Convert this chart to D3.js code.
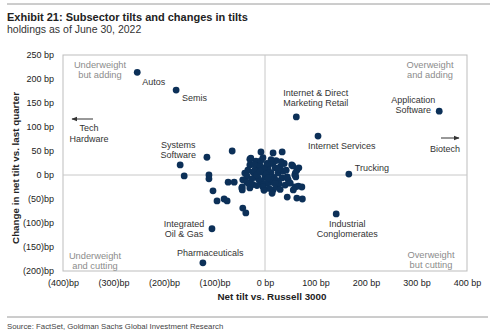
<!DOCTYPE html>
<html>
<head>
<meta charset="utf-8">
<script src="https://cdn.jsdelivr.net/npm/d3@7"></script>
<style>
  body { margin: 0; background: #fff; }
  text { font-family: "Liberation Sans", Arial, sans-serif; }
  .narrow { font-family: "Liberation Sans Narrow", "Liberation Sans", Arial, sans-serif; }
</style>
</head>
<body>
<script>
// labelled subsectors: net tilt (bp) and change in tilt (bp)
var labelled = [
  { name: ["Autos"], x: -253, y: 214, dx: 5, dy: 13, anchor: "start" },
  { name: ["Semis"], x: -176, y: 177, dx: 6, dy: 11, anchor: "start" },
  { name: ["Systems", "Software"], x: -168, y: 21, dx: -2, dy: -17, anchor: "middle" },
  { name: ["Integrated", "Oil & Gas"], x: -105, y: -112, dx: -28, dy: -2, anchor: "middle" },
  { name: ["Pharmaceuticals"], x: -123, y: -183, dx: -26, dy: -7, anchor: "start" },
  { name: ["Internet & Direct", "Marketing Retail"], x: 62, y: 121, dx: -13, dy: -21, anchor: "start" },
  { name: ["Internet Services"], x: 105, y: 81, dx: -10, dy: 13, anchor: "start" },
  { name: ["Trucking"], x: 166, y: 2, dx: 6, dy: -3, anchor: "start" },
  { name: ["Application", "Software"], x: 345, y: 133, dx: -26, dy: -8, anchor: "middle" },
  { name: ["Industrial", "Conglomerates"], x: 141, y: -81, dx: 11, dy: 13, anchor: "middle" }
];

// the rest of the subsectors, no labels
var others = [
  [-160, -2], [-115, 37], [-65, 50], [-111, 0], [-111, -8], [-103, -33], [-95, -54],
  [-81, -50], [-75, -54], [-73, -15], [-61, -15], [-44, -69], [-38, -79], [-8, 48],
  [16, 46], [34, 48], [-28, 35], [-18, 29], [-30, 21], [-34, 10], [-40, 4], [-36, -2],
  [-44, -10], [-46, -27], [-30, -27], [-14, 17], [-6, 6], [0, -4], [6, 12], [16, 25],
  [20, 15], [30, 17], [26, 4], [34, -6], [14, -15], [4, -17], [-6, -15], [-14, -6],
  [-20, -4], [-24, 6], [16, -31], [14, -38], [40, -21], [46, -10], [53, 21], [63, 10],
  [59, 0], [44, -46], [55, 19], [67, 15], [60, 4], [61, -4], [44, -4], [50, -17],
  [60, -25], [66, -23], [73, -25], [56, -31], [63, -48], [74, -50], [23, -25], [-36, -15],
  [-45, -25], [-45, -31], [-30, 33], [-20, 10], [-10, 20], [-2, 15], [8, 22], [12, 5],
  [18, -5], [24, -12], [-12, -10], [-4, -25], [8, -28], [28, -18], [-26, -8], [-16, 0],
  [2, 2], [10, -8], [-8, 30], [22, 30], [36, 8], [-32, -18], [-22, 22], [30, -30],
  [38, 24], [-2, -32], [12, 32], [-24, -20], [4, 24], [-10, 8], [6, -6], [26, 12],
  [-16, -22], [20, -18], [32, 28], [-4, 36], [42, 10]
];

var xTicks = [-400, -300, -200, -100, 0, 100, 200, 300, 400];
var yTicks = [-200, -150, -100, -50, 0, 50, 100, 150, 200, 250];

function bp(v) { return v < 0 ? "(" + (-v) + ")bp" : v + " bp"; }

var W = 500, H = 335;
var svg = d3.select("body").append("svg")
  .attr("width", W)
  .attr("height", H);

var x = d3.scaleLinear().domain([-400, 400]).range([63, 467]);
var y = d3.scaleLinear().domain([-200, 250]).range([271, 55]);

// header rule, title, subtitle
svg.append("line").attr("x1", 7).attr("x2", 490).attr("y1", 4).attr("y2", 4)
  .attr("stroke", "#9a9a9a").attr("stroke-width", 1);
svg.append("text").attr("class", "narrow")
  .attr("x", 7).attr("y", 20.5)
  .attr("font-size", 11).attr("font-weight", "bold").attr("fill", "#222")
  .text("Exhibit 21: Subsector tilts and changes in tilts");
svg.append("text").attr("class", "narrow")
  .attr("x", 7).attr("y", 33)
  .attr("font-size", 10.5).attr("fill", "#333")
  .text("holdings as of June 30, 2022");

// plot frame and zero lines
svg.append("rect")
  .attr("x", x(-400)).attr("y", y(250))
  .attr("width", x(400) - x(-400)).attr("height", y(-200) - y(250))
  .attr("fill", "none").attr("stroke", "#bdbdbd");
svg.append("line").attr("x1", x(0)).attr("x2", x(0)).attr("y1", y(250)).attr("y2", y(-200))
  .attr("stroke", "#c8c8c8");
svg.append("line").attr("x1", x(-400)).attr("x2", x(400)).attr("y1", y(0)).attr("y2", y(0))
  .attr("stroke", "#c8c8c8");

// axes
var xAxis = svg.append("g")
  .attr("transform", "translate(0," + y(-200) + ")")
  .call(d3.axisBottom(x).tickValues(xTicks).tickFormat(bp).tickSize(0).tickPadding(9));
var yAxis = svg.append("g")
  .attr("transform", "translate(" + x(-400) + ",0)")
  .call(d3.axisLeft(y).tickValues(yTicks).tickFormat(bp).tickSize(0).tickPadding(9));
[xAxis, yAxis].forEach(function (g) {
  g.select(".domain").remove();
  g.selectAll("text")
    .attr("font-family", "'Liberation Sans', Arial, sans-serif")
    .attr("font-size", 9).attr("fill", "#222");
});

svg.append("text")
  .attr("x", 272).attr("y", 300)
  .attr("text-anchor", "middle").attr("font-size", 9.8).attr("font-weight", "bold").attr("fill", "#222")
  .text("Net tilt vs. Russell 3000");
svg.append("text")
  .attr("transform", "translate(19," + 168 + ") rotate(-90)")
  .attr("text-anchor", "middle").attr("font-size", 9.8).attr("font-weight", "bold").attr("fill", "#222")
  .text("Change in net tilt vs. last quarter");

// quadrant notes
var quads = [
  { t: ["Underweight", "but adding"], px: 100, py: 68 },
  { t: ["Overweight", "and adding"], px: 430, py: 68 },
  { t: ["Underweight", "and cutting"], px: 95, py: 259 },
  { t: ["Overweight", "but cutting"], px: 431, py: 258 }
];
quads.forEach(function (q) {
  var t = svg.append("text").attr("text-anchor", "middle")
    .attr("font-size", 9.3).attr("fill", "#8c8c8c");
  q.t.forEach(function (s, i) {
    t.append("tspan").attr("x", q.px).attr("y", q.py + i * 10.2).text(s);
  });
});

// off-scale sectors shown with arrows
svg.append("defs").append("marker")
  .attr("id", "head").attr("viewBox", "0 0 10 10")
  .attr("refX", 9).attr("refY", 5)
  .attr("markerWidth", 6).attr("markerHeight", 6).attr("orient", "auto")
  .append("path").attr("d", "M0,1L10,5L0,9z").attr("fill", "#333");
svg.append("line").attr("x1", 93).attr("x2", 72).attr("y1", 119).attr("y2", 119)
  .attr("stroke", "#333").attr("marker-end", "url(#head)");
svg.append("line").attr("x1", 441).attr("x2", 459).attr("y1", 138).attr("y2", 138)
  .attr("stroke", "#333").attr("marker-end", "url(#head)");
var th = svg.append("text").attr("text-anchor", "middle").attr("font-size", 9).attr("fill", "#333");
th.append("tspan").attr("x", 89).attr("y", 131).text("Tech");
th.append("tspan").attr("x", 89).attr("y", 141.5).text("Hardware");
svg.append("text").attr("text-anchor", "middle").attr("font-size", 9).attr("fill", "#333")
  .attr("x", 445).attr("y", 152).text("Biotech");

// dots
var navy = "#0c3058";
svg.append("g").selectAll("circle")
  .data(others)
  .join("circle")
  .attr("cx", function (d) { return x(d[0]); })
  .attr("cy", function (d) { return y(d[1]); })
  .attr("r", 3.4)
  .attr("fill", navy);

var lg = svg.append("g");
lg.selectAll("circle")
  .data(labelled)
  .join("circle")
  .attr("cx", function (d) { return x(d.x); })
  .attr("cy", function (d) { return y(d.y); })
  .attr("r", 3.4)
  .attr("fill", navy);

lg.selectAll("text")
  .data(labelled)
  .join("text")
  .attr("text-anchor", function (d) { return d.anchor; })
  .attr("font-size", 9).attr("fill", "#333")
  .each(function (d) {
    var t = d3.select(this);
    d.name.forEach(function (s, i) {
      t.append("tspan")
        .attr("x", x(d.x) + d.dx)
        .attr("y", y(d.y) + d.dy + i * 10.3)
        .text(s);
    });
  });

// footer
svg.append("line").attr("x1", 7).attr("x2", 488).attr("y1", 317).attr("y2", 317)
  .attr("stroke", "#9a9a9a").attr("stroke-width", 1);
svg.append("text").attr("class", "narrow")
  .attr("x", 7).attr("y", 329)
  .attr("font-size", 7.8).attr("fill", "#444")
  .text("Source: FactSet, Goldman Sachs Global Investment Research");
</script>
</body>
</html>
